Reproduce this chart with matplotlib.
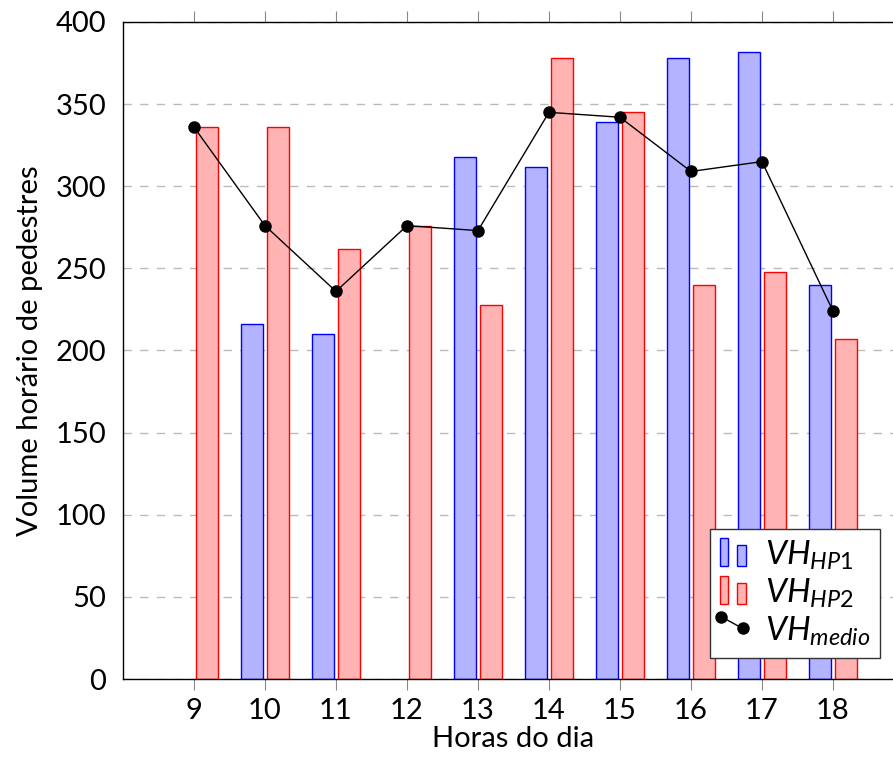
import numpy as np
import matplotlib.pyplot as plt
from matplotlib.legend_handler import HandlerBase
from matplotlib.patches import Rectangle
from matplotlib.lines import Line2D

plt.rcParams['font.family'] = ['Lato', 'DejaVu Sans']
plt.rcParams['mathtext.fontset'] = 'custom'
plt.rcParams['mathtext.rm'] = 'Lato'
plt.rcParams['mathtext.it'] = 'Lato:italic'

# dados
horas = [9, 10, 11, 12, 13, 14, 15, 16, 17, 18]
vh_hp1 = [0, 216, 210, 0, 318, 312, 339, 378, 382, 240]
vh_hp2 = [336, 336, 262, 276, 228, 378, 345, 240, 248, 207]
vh_medio = [336, 276, 236, 276, 273, 345, 342, 309, 315, 224]
yticks = [0, 50, 100, 150, 200, 250, 300, 350, 400]

AZUL_F = (0.7, 0.7, 1.0)
VERM_F = (1.0, 0.7, 0.7)


class BarrasHandler(HandlerBase):
    # legenda no estilo pgfplots: duas barrinhas
    def __init__(self, face, edge):
        super().__init__()
        self.face = face
        self.edge = edge

    def create_artists(self, legend, orig, xd, yd, w, h, fs, trans):
        bw = w * 0.3
        r1 = Rectangle((xd, yd - h * 0.05), bw, h * 1.2, facecolor=self.face,
                       edgecolor=self.edge, lw=1.0, transform=trans)
        r2 = Rectangle((xd + w * 0.62, yd - h * 0.05), bw, h * 0.9, facecolor=self.face,
                       edgecolor=self.edge, lw=1.0, transform=trans)
        return [r1, r2]


class LinhaHandler(HandlerBase):
    def create_artists(self, legend, orig, xd, yd, w, h, fs, trans):
        ln = Line2D([xd + w * 0.05, xd + w * 0.8], [yd + h * 1.05, yd + h * 0.55],
                    color='black', lw=1.0, marker='o', markersize=8,
                    transform=trans)
        return [ln]


fig = plt.figure(figsize=(8.93, 7.58), dpi=100)
ax = fig.add_axes([0.1377, 0.1042, 0.8746, 0.8668])

x = np.array(horas, dtype=float)
largura = 0.31
desl = 0.185

ax.set_axisbelow(True)
ax.yaxis.grid(True, linestyle=(0, (6, 6)), color='#bbbbbb', lw=1.0)

b1 = ax.bar(x - desl, vh_hp1, largura, facecolor=AZUL_F, edgecolor='blue', lw=1.0, zorder=2)
b2 = ax.bar(x + desl, vh_hp2, largura, facecolor=VERM_F, edgecolor='red', lw=1.0, zorder=2)
# barras de altura zero nao aparecem
for p, v in zip(b1, vh_hp1):
    if v == 0:
        p.set_visible(False)
l1, = ax.plot(x, vh_medio, color='black', lw=1.0, marker='o', markersize=8, zorder=3)

ax.set_xlim(8, 19)
ax.set_ylim(0, 400)
ax.set_xticks(horas)
ax.set_yticks(yticks)
ax.tick_params(axis='x', direction='out', top=True, length=8, color='#888888',
               labelsize=21, pad=6)
ax.tick_params(axis='y', length=0, labelsize=21, pad=12)

for s in ax.spines.values():
    s.set_linewidth(1.0)

ax.set_xlabel('Horas do dia', fontsize=21, labelpad=1)
ax.set_ylabel('Volume horário de pedestres', fontsize=21, labelpad=9)

leg = ax.legend([b1, b2, l1],
                [r'$VH_{\mathit{HP1}}$', r'$VH_{\mathit{HP2}}$', r'$VH_{\mathit{medio}}$'],
                handler_map={b1: BarrasHandler(AZUL_F, 'blue'),
                             b2: BarrasHandler(VERM_F, 'red'),
                             l1: LinhaHandler()},
                loc='upper right', bbox_to_anchor=(880 / 893, 1 - 529 / 758),
                bbox_transform=fig.transFigure,
                fontsize=24, fancybox=False, framealpha=1, edgecolor='#333333',
                handlelength=0.85, handletextpad=0.5, labelspacing=0.15,
                borderpad=0.3, borderaxespad=0)
leg.get_frame().set_linewidth(1.0)

fig.savefig('out.png', dpi=100)
